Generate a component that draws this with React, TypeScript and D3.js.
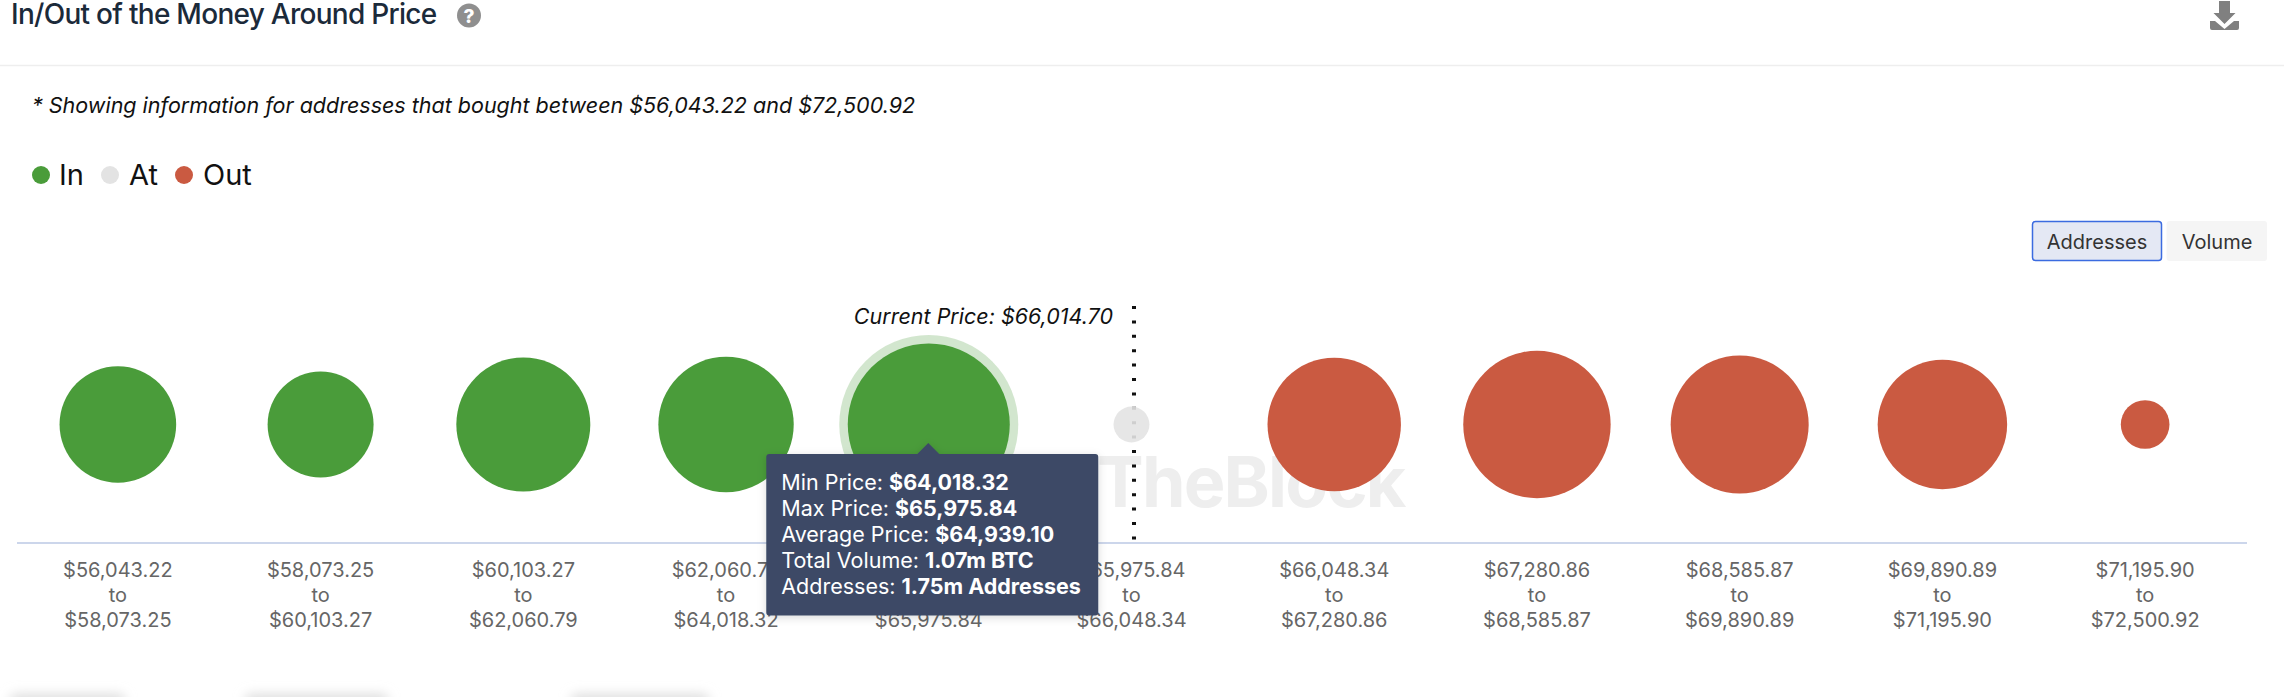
import React from "react";
import * as d3 from "d3";

const lows = ["$56,043.22","$58,073.25","$60,103.27","$62,060.79","$64,018.32","$65,975.84","$66,048.34","$67,280.86","$68,585.87","$69,890.89","$71,195.90"];
const highs = ["$58,073.25","$60,103.27","$62,060.79","$64,018.32","$65,975.84","$66,048.34","$67,280.86","$68,585.87","$69,890.89","$71,195.90","$72,500.92"];
const addressesM = [0.907,0.749,1.197,1.222,1.75,0.086,1.187,1.449,1.27,1.117,0.158];
const kinds = ["In","In","In","In","In","At","Out","Out","Out","Out","Out"];
const legendItems = ["In","At","Out"];
const legendX = [41,110,184];
const legendTextX = [59,129,203];
const activeIndex = 4;
const tipLabels = ["Min Price: ","Max Price: ","Average Price: ","Total Volume: ","Addresses: "];
const tipValues = ["$64,018.32","$65,975.84","$64,939.10","1.07m BTC","1.75m Addresses"];
const smudges = [[10,115],[245,143],[571,138]];

const W = 2284, H = 697;
const FONT = "Inter, 'Noto Sans', sans-serif";
const colour = d3.scaleOrdinal<string,string>().domain(legendItems).range(["#4a9c3a","#e3e3e3","#ca5a41"]);
const x = d3.scaleBand<number>().domain(d3.range(lows.length)).range([16.5,2246.5]);
const r = d3.scaleSqrt().domain([0,1.75]).range([0,81]);
const cx = (i:number) => (x(i) as number) + x.bandwidth()/2;
const CY = 424.5, AXIS = 543;
const TIP_TOP = 454;
const priceX = cx(5)+2.5;

export default function App(){
  const tx = cx(activeIndex)-0.5;
  return (
    <svg width={W} height={H} viewBox={`0 0 ${W} ${H}`} style={{position:"fixed",left:0,top:0,display:"block",background:"#fff"}} fontFamily={FONT}>
      <defs>
        <filter id="blur" x="-30%" y="-100%" width="160%" height="300%"><feGaussianBlur stdDeviation="6"/></filter>
        <filter id="shadow" x="-10%" y="-10%" width="120%" height="120%"><feDropShadow dx="0" dy="2" stdDeviation="4" floodColor="#000" floodOpacity="0.15"/></filter>
      </defs>
      <text x={11} y={24} fontSize={28} fontWeight={500} letterSpacing={-0.72} fill="#1b2a3a">In/Out of the Money Around Price</text>
      <circle cx={469} cy={15.5} r={12} fill="#8f8f8f"/>
      <text x={469} y={22.5} fontSize={19} fontWeight={800} fill="#fff" textAnchor="middle">?</text>
      <g fill="#808080">
        <path d="M2219 1h11v12h5.5l-11 11-11-11h5.5z"/>
        <path d="M2210 21h5l9.500 8 9.500-8h5v7a2 2 0 0 1-2 2h-25a2 2 0 0 1-2-2z"/>
      </g>
      <line x1={0} x2={W} y1={65.5} y2={65.5} stroke="#eeeeee" strokeWidth={1.5}/>
      <text x={32} y={113} fontSize={21.5} fontStyle="italic" fill="#111">* Showing information for addresses that bought between $56,043.22 and $72,500.92</text>
      {legendItems.map((d,i)=>(
        <g key={d}>
          <circle cx={legendX[i]} cy={175} r={9} fill={colour(d)}/>
          <text x={legendTextX[i]} y={185} fontSize={29} fill="#111">{d}</text>
        </g>
      ))}
      <rect x={2032.5} y={221.5} width={129} height={39} rx={3} fill="#e4e8f4" stroke="#3b6be0" strokeWidth={1.5}/>
      <text x={2097} y={248.5} fontSize={20} fill="#333" textAnchor="middle">Addresses</text>
      <rect x={2166.5} y={221} width={100.500} height={40} rx={3} fill="#f5f5f5"/>
      <text x={2217} y={248.5} fontSize={20} fill="#333" textAnchor="middle">Volume</text>

      <text x={1097} y={507} fontSize={70} fontWeight={700} letterSpacing={-1.8} fill="#eeeeee">TheBlock</text>
      <line x1={17} x2={2247} y1={AXIS} y2={AXIS} stroke="#ccd6eb" strokeWidth={2}/>
      <line x1={priceX} x2={priceX} y1={306} y2={540} stroke="#111" strokeWidth={4} strokeDasharray="3 11.4"/>
      <text x={1113} y={324} fontSize={21.5} fontStyle="italic" fill="#111" textAnchor="end">Current Price: $66,014.70</text>

      {addressesM.map((v,i)=>(
        <g key={i}>
          {i===activeIndex && <circle cx={cx(i)} cy={CY} r={r(v)+8.500} fill={colour(kinds[i])} opacity={0.25}/>}
          <circle cx={cx(i)} cy={CY} r={r(v)} fill={colour(kinds[i])} opacity={kinds[i]==="At"?0.9:1}/>
        </g>
      ))}
      {lows.map((d,i)=>(
        <g key={d} textAnchor="middle" fontSize={20} fill="#666666">
          <text x={cx(i)} y={577}>{d}</text>
          <text x={cx(i)} y={602}>to</text>
          <text x={cx(i)} y={627}>{highs[i]}</text>
        </g>
      ))}

      <g filter="url(#shadow)">
        <path fill="#3c4a66" d={`M${tx-162} ${TIP_TOP}H${tx-11}L${tx} 443L${tx+11} ${TIP_TOP}H${tx+167}a3 3 0 0 1 3 3V612.500a3 3 0 0 1 -3 3H${tx-159}a3 3 0 0 1 -3 -3V${TIP_TOP+3}a3 3 0 0 1 3 -3z`}/>
      </g>
      {tipLabels.map((d,i)=>(
        <text key={d} x={tx-147} y={490+i*25.9} fontSize={21.500} fill="#fff">
          {d}<tspan fontWeight={700}>{tipValues[i]}</tspan>
        </text>
      ))}
      {smudges.map(([a,w],i)=>(
        <rect key={i} x={a} y={694} width={w} height={14} rx={6} fill="#dddddd" filter="url(#blur)"/>
      ))}
    </svg>
  );
}
